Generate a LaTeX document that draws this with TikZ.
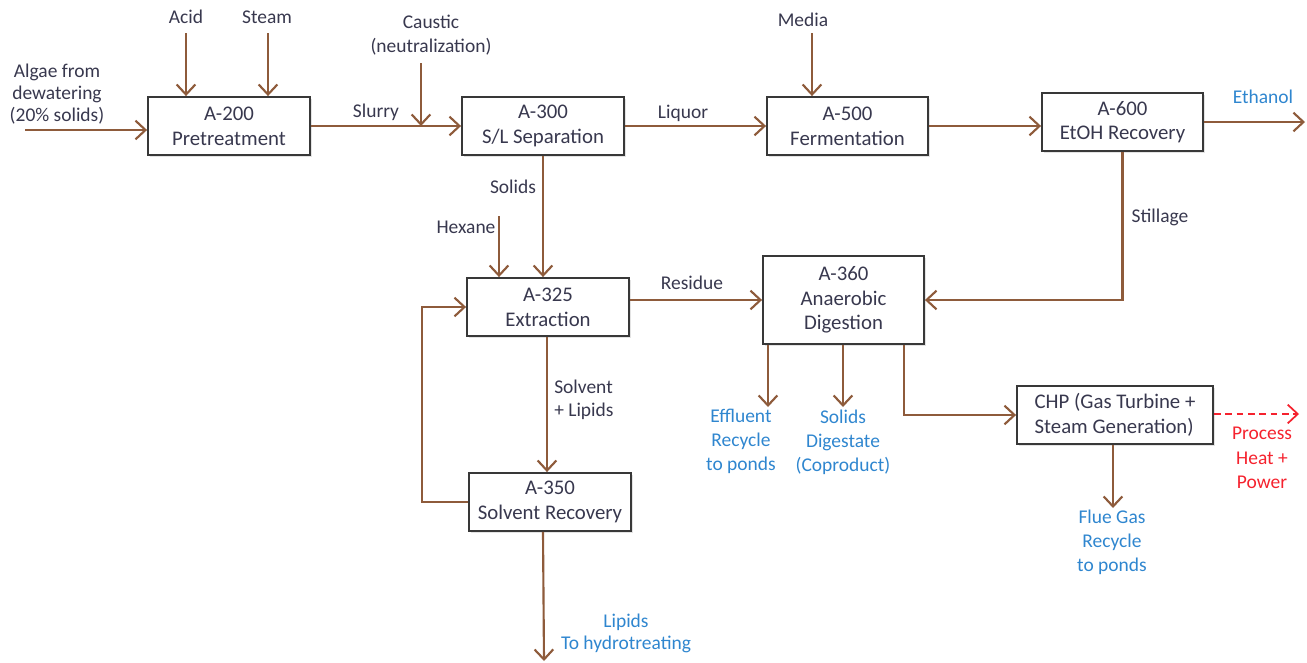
\documentclass[tikz,border=0pt]{standalone}
\usepackage{fontspec}
\setmainfont{Carlito}
\usetikzlibrary{arrows.meta,shadows,calc}
\definecolor{arrbrown}{HTML}{8E5B3B}
\definecolor{boxline}{HTML}{383838}
\definecolor{txt}{HTML}{38384E}
\definecolor{outblue}{HTML}{2F86CF}
\definecolor{outred}{HTML}{F5222E}
\begin{document}
\begin{tikzpicture}[x=0.75pt,y=-0.75pt,
  unit/.style={draw=boxline, line width=1.4pt, fill=white, text=txt, align=center, inner sep=0pt,
    font=\fontsize{15.6}{18.5}\selectfont,
    drop shadow={shadow xshift=1.2pt, shadow yshift=-1.2pt, opacity=0.22}},
  lbl/.style={text=txt, align=center, inner sep=0pt, font=\fontsize{14.6}{17.5}\selectfont},
  outb/.style={lbl, text=outblue},
  outr/.style={lbl, text=outred},
  flow/.style={draw=arrbrown, line width=1.6pt, -{Straight Barb[length=7.5pt,width=14pt]}},
  heatflow/.style={draw=outred, line width=1.3pt, dash pattern=on 5pt off 3.5pt, -{Straight Barb[length=7.5pt,width=14pt]}},
]
\useasboundingbox (0,0) rectangle (1307,662);

% process units
\node[unit, minimum width=121.5pt, minimum height=43.5pt] (A200) at (229,126) {A-200\\Pretreatment};
\node[unit, minimum width=121.5pt, minimum height=43.5pt] (A300) at (543,126) {A-300\\S/L Separation};
\node[unit, minimum width=120.75pt, minimum height=43.5pt] (A500) at (847.5,126) {A-500\\Fermentation};
\node[unit, minimum width=120.75pt, minimum height=43.5pt] (A600) at (1122.5,122) {A-600\\EtOH Recovery};
\node[unit, minimum width=121.5pt, minimum height=43.5pt] (A325) at (548,307) {A-325\\Extraction};
\node[unit, minimum width=120.75pt, minimum height=66pt] (A360) at (843.5,300) {A-360\\Anaerobic\\Digestion};
\node[unit, minimum width=121.5pt, minimum height=43.5pt] (A350) at (550,502) {A-350\\Solvent Recovery};
\node[unit, align=left, minimum width=147pt, minimum height=43.5pt] (CHP) at (1115,415) {CHP (Gas Turbine +\\Steam Generation)};

% labels
\node[lbl, font=\fontsize{14.6}{16.5}\selectfont] (algae) at (57,94) {Algae from\\dewatering\\(20\% solids)};
\node[lbl] (acid) at (186,17) {Acid};
\node[lbl] (steam) at (267,17) {Steam};
\node[lbl] (caustic) at (431,35) {Caustic\\(neutralization)};
\node[lbl] (slurry) at (376,112) {Slurry};
\node[lbl] (liquor) at (683,113) {Liquor};
\node[lbl] (media) at (803,20) {Media};
\node[outb] (ethanol) at (1263,97) {Ethanol};
\node[lbl] (solids) at (513,187) {Solids};
\node[lbl] (hexane) at (466,227) {Hexane};
\node[lbl] (residue) at (692,283) {Residue};
\node[lbl] (stillage) at (1160,217) {Stillage};
\node[lbl, align=left, anchor=west] (solvlip) at (554,400) {Solvent\\+ Lipids};
\node[outb, font=\fontsize{14.6}{18}\selectfont] (effl) at (741,441) {Effluent\\Recycle\\to ponds};
\node[outb, font=\fontsize{14.6}{18}\selectfont] (dig) at (843,442) {Solids\\Digestate\\(Coproduct)};
\node[outr, font=\fontsize{14.6}{18.5}\selectfont] (heat) at (1262,458) {Process\\Heat +\\Power};
\node[outb, font=\fontsize{14.6}{18}\selectfont] (flue) at (1112,542) {Flue Gas\\Recycle\\to ponds};
\node[outb, font=\fontsize{14.6}{16.5}\selectfont] (lip) at (626,633) {Lipids\\To hydrotreating};

% free ends
\coordinate (algS) at (25,130);
\coordinate (acidS) at (186,33);
\coordinate (steamS) at (268,33);
\coordinate (causS) at (421,63);
\coordinate (mediaS) at (812,33);
\coordinate (ethE) at (1305,122);
\coordinate (hexS) at (499,216);
\coordinate (slX) at (547,400);
\coordinate (effT) at (768,407);
\coordinate (digT) at (843,407);
\coordinate (chpX) at (904,415);
\coordinate (flueT) at (1113,508);
\coordinate (heatT) at (1299,414);
\coordinate (lipT) at (544,661);
\coordinate (recX) at (422,400);

% top row
\draw[flow] (algS) -- (A200.west |- algS);
\draw[flow] (acidS) -- (acidS |- A200.north);
\draw[flow] (steamS) -- (steamS |- A200.north);
\draw[flow] (A200.east) -- (A300.west);
\draw[flow] (causS) -- (causS |- A200.east);
\draw[flow] (A300.east) -- (A500.west);
\draw[flow] (mediaS) -- (mediaS |- A500.north);
\draw[flow] (A500.east) -- (A500.east -| A600.west);
\draw[flow] (A600.east) -- (ethE);

% middle
\draw[flow] (A300.south) -- (A300.south |- A325.north);
\draw[flow] (hexS) -- (hexS |- A325.north);
\draw[flow] (A325.east |- A360.west) -- (A360.west);
\draw[flow] (A600.south) |- (A360.east);
\draw[flow] (A325.south -| slX) -- (A350.north -| slX);
\draw[flow] (A350.west) -| (recX) |- (A325.west);
\draw[flow] (A350.south -| A300.south) -- (lipT);

% digestion outputs
\draw[flow] (A360.south -| effT) -- (effT);
\draw[flow] (A360.south -| digT) -- (digT);
\draw[flow] (A360.south -| chpX) |- (CHP.west);
\draw[flow] (CHP.south -| flueT) -- (flueT);
\draw[heatflow] (CHP.east |- heatT) -- (heatT);
\end{tikzpicture}
\end{document}
